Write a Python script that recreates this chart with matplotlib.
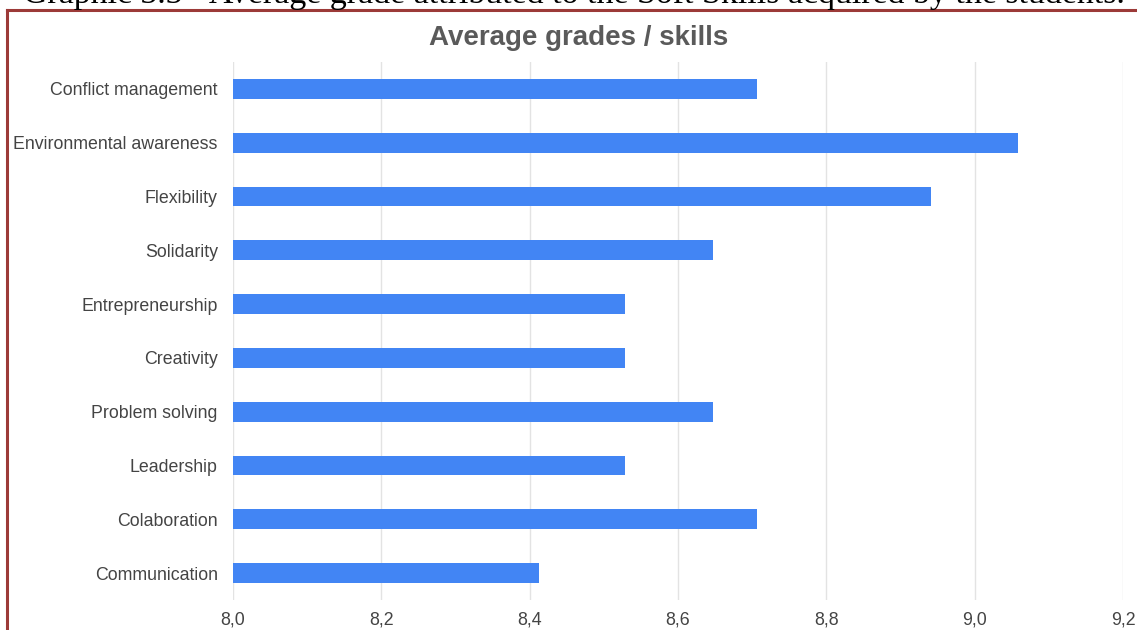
import matplotlib
matplotlib.use('Agg')
import matplotlib.pyplot as plt
from matplotlib.lines import Line2D
from matplotlib.ticker import FuncFormatter

skills = ['Conflict management', 'Environmental awareness', 'Flexibility', 'Solidarity',
          'Entrepreneurship', 'Creativity', 'Problem solving', 'Leadership',
          'Colaboration', 'Communication']
grades = [8.706, 9.059, 8.941, 8.647, 8.529, 8.529, 8.647, 8.529, 8.706, 8.412]
xticks = [8.0, 8.2, 8.4, 8.6, 8.8, 9.0, 9.2]

plt.rcParams['font.family'] = ['Liberation Sans', 'DejaVu Sans']

fig = plt.figure(figsize=[11.37, 6.3], dpi=100)
ax = fig.add_axes([233/1137, 1-600/630, (1123-233)/1137, (600-62)/630])

y = list(range(len(skills)))
ax.barh(y, [g-8.0 for g in grades], left=8.0, height=0.37, color='#4285F4', zorder=2)
ax.set_ylim(len(skills)-0.5, -0.5)
ax.set_yticks(y)
ax.set_yticklabels(skills, fontsize=12.8, color='#444444')
ax.set_xlim(8.0, 9.2)
ax.set_xticks(xticks)
ax.xaxis.set_major_formatter(FuncFormatter(lambda v, p: f"{v:.1f}".replace('.', ',')))
ax.tick_params(axis='x', labelsize=12.8, labelcolor='#444444', length=0, pad=8)
ax.tick_params(axis='y', length=0, pad=11)
ax.grid(axis='x', color='#e3e3e3', linewidth=1, zorder=0)
for s in ax.spines.values():
    s.set_visible(False)

fig.text(579/1137, 1-45/630, 'Average grades / skills', ha='center', va='baseline',
         fontsize=20, fontweight='bold', color='#5a5a5a')

# caption of the document, cut at the top like in the source
fig.text(23/1137, 1-3/630, 'Graphic 3.3 - Average grade attributed to the Soft Skills acquired by the students.',
         ha='left', va='baseline', fontsize=24.4, family='Liberation Serif', color='black')

# frame
red = '#9c3a38'
fig.add_artist(Line2D([7/1137, 7/1137], [0, 1-10/630], transform=fig.transFigure, color=red, linewidth=2.2))
fig.add_artist(Line2D([7/1137, 1], [1-10/630, 1-10/630], transform=fig.transFigure, color=red, linewidth=2.2))

fig.savefig('out.png', dpi=100)
